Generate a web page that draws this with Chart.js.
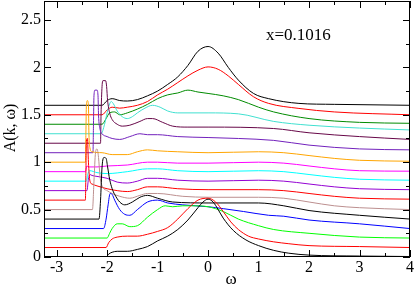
<!DOCTYPE html>
<html lang="en">
<head>
  <meta charset="UTF-8">
  <title>A(k, w) spectra</title>
  <script src="https://cdn.jsdelivr.net/npm/chart.js"></script>
  <style>
    html, body { margin: 0; padding: 0; background: #fff; }
  </style>
</head>
<body>
<canvas id="spectra" width="415" height="289"></canvas>

<script>
  // tick labels
  const xTicks = [-3, -2, -1, 0, 1, 2, 3, 4];
  const yTicks = [0, 0.5, 1, 1.5, 2, 2.5];

  // curves, bottom (offset 0) to top (offset 1.6)
  const w0 = [-3.25, -2.02, -1.97, -1.9, -1.8, -1.6, -1.4, -1.2, -1.0, -0.8, -0.6, -0.4, -0.2, -0.1, 0, 0.1, 0.2, 0.3, 0.5, 0.75, 1.0, 1.3, 1.6, 2.0, 3.0, 4.0];
  const a0 = [0, 0, 0.03, 0.05, 0.06, 0.06, 0.08, 0.11, 0.17, 0.22, 0.29, 0.39, 0.52, 0.58, 0.61, 0.58, 0.5, 0.41, 0.28, 0.18, 0.12, 0.07, 0.04, 0.02, 0.01, 0.005];

  const w1 = [-3.25, -2.02, -1.97, -1.9, -1.8, -1.6, -1.4, -1.2, -1.0, -0.8, -0.6, -0.4, -0.2, 0, 0.15, 0.3, 0.45, 0.6, 0.8, 1.0, 1.3, 1.6, 2.0, 3.0, 4.0];
  const a1 = [0.1, 0.1, 0.15, 0.19, 0.21, 0.22, 0.22, 0.24, 0.27, 0.31, 0.4, 0.51, 0.6, 0.62, 0.58, 0.48, 0.37, 0.29, 0.22, 0.19, 0.16, 0.14, 0.12, 0.11, 0.1];

  const w2 = [-3.25, -2.0, -1.95, -1.9, -1.8, -1.7, -1.55, -1.4, -1.2, -1.0, -0.85, -0.7, -0.5, -0.3, 0, 0.3, 0.6, 1.0, 1.3, 2.0, 3.0, 4.0];
  const a2 = [0.2, 0.2, 0.25, 0.3, 0.35, 0.35, 0.32, 0.33, 0.42, 0.5, 0.54, 0.53, 0.54, 0.54, 0.53, 0.48, 0.4, 0.33, 0.29, 0.25, 0.21, 0.2];

  const w3 = [-3.25, -2.07, -2.02, -1.98, -1.94, -1.9, -1.85, -1.75, -1.65, -1.55, -1.4, -1.2, -1.0, -0.8, -0.5, 0, 0.3, 0.7, 1.2, 1.5, 2.0, 3.0, 4.0];
  const a3 = [0.3, 0.3, 0.4, 0.55, 0.67, 0.66, 0.6, 0.5, 0.45, 0.44, 0.5, 0.58, 0.6, 0.57, 0.55, 0.53, 0.51, 0.48, 0.44, 0.43, 0.39, 0.35, 0.3];

  const w4 = [-3.25, -2.16, -2.13, -2.1, -2.06, -2.02, -1.99, -1.95, -1.9, -1.85, -1.75, -1.65, -1.5, -1.35, -1.2, -1.0, -0.7, 0, 1.0, 1.5, 2.0, 3.0, 4.0];
  const a4 = [0.4, 0.4, 0.6, 0.95, 1.05, 1.04, 0.95, 0.82, 0.72, 0.66, 0.58, 0.55, 0.58, 0.63, 0.65, 0.62, 0.58, 0.57, 0.57, 0.54, 0.49, 0.44, 0.4];

  const w5 = [-3.25, -2.29, -2.26, -2.23, -2.2, -2.17, -2.14, -2.1, -2.0, -1.9, -1.75, -1.55, -1.35, -1.2, -1.0, -0.5, 0, 1.0, 1.5, 2.0, 2.5, 3.0, 4.0];
  const a5 = [0.5, 0.5, 0.8, 1.1, 1.14, 1.05, 0.85, 0.75, 0.7, 0.67, 0.64, 0.62, 0.65, 0.67, 0.67, 0.64, 0.63, 0.63, 0.62, 0.58, 0.54, 0.52, 0.5];

  const w6 = [-3.25, -2.43, -2.42, -2.41, -2.39, -2.37, -2.34, -2.3, -2.2, -2.0, -1.8, -1.6, -1.4, -1.2, -1.0, -0.6, 0, 1.0, 1.5, 2.0, 2.5, 3.0, 4.0];
  const a6 = [0.6, 0.6, 0.9, 1.22, 1.25, 1.0, 0.8, 0.77, 0.75, 0.72, 0.7, 0.69, 0.71, 0.74, 0.74, 0.72, 0.71, 0.71, 0.7, 0.67, 0.64, 0.62, 0.61];

  const w7 = [-3.25, -2.4, -2.37, -2.34, -2.3, -2.2, -2.0, -1.8, -1.6, -1.4, -1.2, -1.0, -0.6, 0, 1.0, 1.5, 2.0, 2.5, 3.0, 4.0];
  const a7 = [0.7, 0.7, 0.82, 0.87, 0.86, 0.85, 0.83, 0.79, 0.78, 0.8, 0.83, 0.83, 0.81, 0.8, 0.81, 0.8, 0.77, 0.74, 0.72, 0.71];

  const w8 = [-3.25, -2.41, -2.38, -2.34, -2.2, -2.0, -1.6, -1.2, -1.0, -0.6, 0, 1.0, 1.5, 2.0, 2.5, 3.0, 4.0];
  const a8 = [0.8, 0.8, 0.88, 0.91, 0.89, 0.88, 0.9, 0.93, 0.93, 0.91, 0.9, 0.91, 0.9, 0.87, 0.84, 0.82, 0.81];

  const w9 = [-3.25, -2.43, -2.4, -2.36, -2.2, -2.0, -1.6, -1.2, -1.0, -0.6, 0, 1.0, 1.5, 2.0, 2.5, 3.0, 4.0];
  const a9 = [0.9, 0.9, 0.96, 0.95, 0.95, 0.96, 0.97, 1.0, 1.0, 0.99, 0.99, 1.0, 0.99, 0.96, 0.93, 0.91, 0.905];

  const w10 = [-3.25, -2.43, -2.42, -2.41, -2.39, -2.37, -2.36, -2.34, -2.3, -2.1, -1.9, -1.6, -1.4, -1.2, -1.0, -0.6, 0, 1.0, 1.5, 2.0, 2.5, 3.0, 4.0];
  const a10 = [1.0, 1.0, 1.3, 1.6, 1.65, 1.6, 1.3, 1.15, 1.11, 1.1, 1.08, 1.08, 1.11, 1.13, 1.12, 1.11, 1.1, 1.11, 1.1, 1.07, 1.04, 1.02, 1.01];

  const w11 = [-3.25, -2.28, -2.27, -2.26, -2.24, -2.2, -2.18, -2.17, -2.14, -2.1, -2.0, -1.9, -1.75, -1.55, -1.35, -1.2, -1.0, -0.6, 0, 0.6, 1.3, 2.0, 3.0, 4.0];
  const a11 = [1.1, 1.1, 1.4, 1.7, 1.76, 1.76, 1.7, 1.5, 1.35, 1.3, 1.27, 1.25, 1.24, 1.27, 1.3, 1.29, 1.29, 1.27, 1.26, 1.25, 1.23, 1.18, 1.14, 1.13];

  const w12 = [-3.25, -2.13, -2.12, -2.1, -2.08, -2.03, -2.01, -1.99, -1.95, -1.9, -1.8, -1.7, -1.55, -1.35, -1.2, -1.1, -0.9, -0.7, -0.4, 0, 1.3, 2.0, 3.0, 4.0];
  const a12 = [1.2, 1.2, 1.5, 1.8, 1.86, 1.86, 1.8, 1.65, 1.52, 1.45, 1.4, 1.38, 1.39, 1.43, 1.46, 1.46, 1.42, 1.38, 1.37, 1.37, 1.355, 1.31, 1.27, 1.24];

  const w13 = [-3.25, -2.12, -2.05, -2.0, -1.96, -1.92, -1.88, -1.8, -1.7, -1.6, -1.5, -1.4, -1.25, -1.1, -0.95, -0.8, -0.6, 0, 0.6, 1.3, 2.0, 3.0, 4.0];
  const a13 = [1.3, 1.3, 1.4, 1.52, 1.6, 1.64, 1.62, 1.54, 1.48, 1.46, 1.48, 1.52, 1.57, 1.6, 1.58, 1.54, 1.52, 1.52, 1.51, 1.43, 1.39, 1.36, 1.34];

  const w14 = [-3.25, -2.1, -2.02, -1.95, -1.85, -1.75, -1.6, -1.4, -1.2, -1.0, -0.8, -0.6, -0.4, -0.2, 0, 0.3, 0.6, 1.0, 1.3, 2.0, 3.0, 4.0];
  const a14 = [1.4, 1.4, 1.46, 1.52, 1.53, 1.5, 1.52, 1.56, 1.61, 1.67, 1.71, 1.73, 1.76, 1.74, 1.725, 1.7, 1.66, 1.58, 1.53, 1.46, 1.42, 1.41];

  const w15 = [-3.25, -2.1, -2.0, -1.9, -1.75, -1.6, -1.4, -1.2, -1.0, -0.8, -0.6, -0.4, -0.2, 0, 0.2, 0.4, 0.6, 0.9, 1.2, 1.8, 2.5, 4.0];
  const a15 = [1.5, 1.5, 1.55, 1.58, 1.57, 1.58, 1.6, 1.64, 1.71, 1.77, 1.84, 1.91, 1.97, 2.005, 1.98, 1.91, 1.82, 1.69, 1.62, 1.567, 1.53, 1.5];

  const w16 = [-3.25, -2.1, -2.0, -1.9, -1.75, -1.6, -1.4, -1.2, -1.0, -0.8, -0.6, -0.4, -0.2, 0, 0.2, 0.4, 0.6, 0.9, 1.2, 1.8, 2.5, 4.0];
  const a16 = [1.6, 1.6, 1.65, 1.67, 1.65, 1.645, 1.66, 1.7, 1.75, 1.82, 1.9, 2.02, 2.17, 2.22, 2.15, 2.0, 1.866, 1.725, 1.67, 1.62, 1.61, 1.6];

  const lineColors = [
    "#000000", "#ff0000", "#00ff00", "#0000ff", "#000000", "#bc8f8f",
    "#ff0000", "#9400d3", "#00ffff", "#ff00ff", "#ffa500", "#7221bc",
    "#670748", "#40e0d0", "#008b00", "#ff0000", "#000000"
  ];

  const omegas = [w0, w1, w2, w3, w4, w5, w6, w7, w8, w9, w10, w11, w12, w13, w14, w15, w16];
  const spectra = [a0, a1, a2, a3, a4, a5, a6, a7, a8, a9, a10, a11, a12, a13, a14, a15, a16];

  const datasets = spectra.map((a, i) => ({
    data: a.map((v, j) => ({ x: omegas[i][j], y: v })),
    borderColor: lineColors[i],
    borderWidth: 1,
    pointRadius: 0,
    fill: false,
    cubicInterpolationMode: "monotone"
  }));

  const serif = '"Liberation Serif", "DejaVu Serif", serif';

  // frame, inward ticks on all four sides, and the text labels
  const frameAndLabels = {
    id: "frameAndLabels",
    afterDatasetsDraw(chart) {
      const { ctx, chartArea: a, scales: { x, y } } = chart;
      ctx.save();
      ctx.strokeStyle = "#000";
      ctx.lineWidth = 1;
      ctx.strokeRect(a.left + 0.5, a.top + 0.5, a.right - a.left - 1, a.bottom - a.top - 1);

      ctx.beginPath();
      xTicks.forEach((v, i) => {
        const vals = [v];
        if (i < xTicks.length - 1) vals.push((v + xTicks[i + 1]) / 2);
        vals.forEach((t, k) => {
          const len = k === 0 ? 7 : 4;
          const px = Math.round(x.getPixelForValue(t)) + 0.5;
          ctx.moveTo(px, a.bottom); ctx.lineTo(px, a.bottom - len);
          ctx.moveTo(px, a.top); ctx.lineTo(px, a.top + len);
        });
      });
      yTicks.forEach((v) => {
        [v, v + 0.25].forEach((t, k) => {
          if (t > y.max) return;
          const len = k === 0 ? 7 : 4;
          const py = Math.round(y.getPixelForValue(t)) + 0.5;
          ctx.moveTo(a.left, py); ctx.lineTo(a.left + len, py);
          ctx.moveTo(a.right, py); ctx.lineTo(a.right - len, py);
        });
      });
      ctx.stroke();

      ctx.fillStyle = "#000";
      ctx.font = "17px " + serif;
      ctx.textAlign = "left";
      ctx.textBaseline = "alphabetic";
      ctx.fillText("x=0.1016", 266, 40);

      ctx.textAlign = "center";
      ctx.textBaseline = "middle";
      ctx.fillText("\u03c9", 231, 280);

      ctx.translate(11, 128);
      ctx.rotate(-Math.PI / 2);
      ctx.font = "16px " + serif;
      ctx.fillText("A(k, \u03c9)", 0, 0);
      ctx.restore();
    }
  };

  new Chart(document.getElementById("spectra"), {
    type: "line",
    data: { datasets: datasets },
    plugins: [frameAndLabels],
    options: {
      responsive: false,
      animation: false,
      devicePixelRatio: 1,
      layout: { padding: { left: 0, right: 5, top: 1, bottom: 0 } },
      plugins: { legend: { display: false }, tooltip: { enabled: false } },
      scales: {
        x: {
          type: "linear",
          min: -3.25,
          max: 4,
          afterBuildTicks: (s) => { s.ticks = xTicks.map(v => ({ value: v })); },
          afterFit: (s) => { s.height = 32; s.paddingLeft = 0; s.paddingRight = 0; },
          grid: { display: false, drawTicks: false },
          border: { display: false },
          ticks: { color: "#000", padding: 1, maxRotation: 0, font: { family: serif, size: 16 }, callback: (v) => String(v) }
        },
        y: {
          type: "linear",
          min: 0,
          max: 2.7,
          afterBuildTicks: (s) => { s.ticks = yTicks.map(v => ({ value: v })); },
          afterFit: (s) => { s.width = 44; s.paddingTop = 0; s.paddingBottom = 0; },
          grid: { display: false, drawTicks: false },
          border: { display: false },
          ticks: { color: "#000", padding: 3, font: { family: serif, size: 16 }, callback: (v) => String(v) }
        }
      }
    }
  });
</script>
</body>
</html>
